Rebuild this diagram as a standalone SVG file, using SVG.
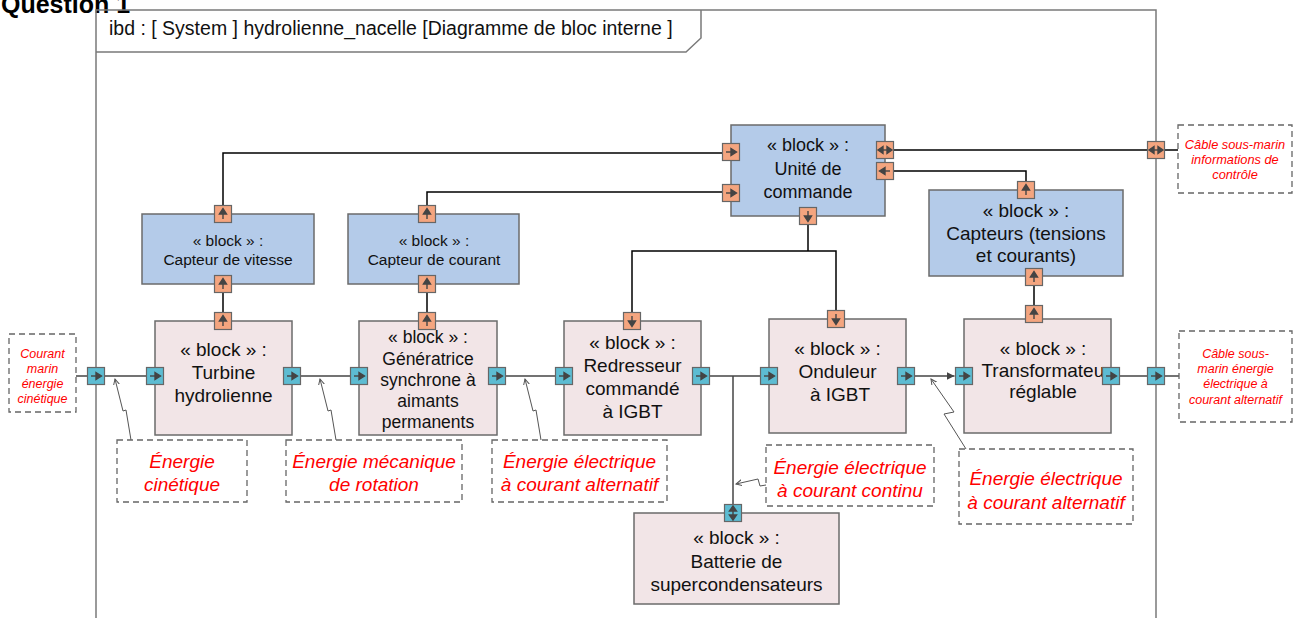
<svg xmlns="http://www.w3.org/2000/svg" xmlns:xlink="http://www.w3.org/1999/xlink" width="1299" height="618" viewBox="0 0 1299 618">
  <style>
    .frame { fill: none; stroke: #7a7a7a; stroke-width: 1.5; }
    .blk-p { fill: #f2e5e7; stroke: #6b6b6b; stroke-width: 1.5; }
    .blk-b { fill: #b4cbe9; stroke: #6b6b6b; stroke-width: 1.5; }
    .po { fill: #f4a57f; stroke: #666; stroke-width: 1.2; }
    .pb { fill: #5dbcd2; stroke: #666; stroke-width: 1.2; }
    .ag { fill: #444; stroke: #444; stroke-width: 1.4; }
    .t { font-family: "Liberation Sans", Arial, sans-serif; fill: #111; text-anchor: middle; }
    .lbl { font-family: "Liberation Sans", Arial, sans-serif; font-style: italic; fill: #f00; text-anchor: middle; }
    .dash { fill: #fff; stroke: #666; stroke-width: 1.3; stroke-dasharray: 6 4; }
    .sig { fill: none; stroke: #000; stroke-width: 1.5; }
    .flow { fill: none; stroke: #444; stroke-width: 1.5; }
    .call { fill: none; stroke: #555; stroke-width: 1; }
  </style>
  <defs>
    <marker id="callTip" markerWidth="8" markerHeight="8" refX="6" refY="3" orient="auto" markerUnits="userSpaceOnUse">
      <path d="M0 0 L6 3 L0 6" fill="none" stroke="#555" stroke-width="1"/>
    </marker>
    <marker id="flowTip" markerWidth="10" markerHeight="10" refX="8" refY="4" orient="auto" markerUnits="userSpaceOnUse">
      <path d="M0 0 L8 4 L0 8 Z" fill="#444"/>
    </marker>
    <!-- flow ports (blue) -->
    <g id="pbR">
      <rect x="-8.5" y="-8.5" width="17" height="17" class="pb"/>
      <path d="M-5 0H1" class="ag"/>
      <polygon points="0,-3.5 5.5,0 0,3.5" class="ag" stroke-width="0.5"/>
    </g>
    <g id="pbUD">
      <rect x="-8.5" y="-8.5" width="17" height="17" class="pb"/>
      <path d="M0 -3V3" class="ag"/>
      <polygon points="-3.5,-2 0,-7 3.5,-2" class="ag" stroke-width="0.5"/>
      <polygon points="-3.5,2 0,7 3.5,2" class="ag" stroke-width="0.5"/>
    </g>
    <!-- signal ports (orange) -->
    <g id="poU">
      <rect x="-8.5" y="-8.5" width="17" height="17" class="po"/>
      <path d="M0 5V-1" class="ag"/>
      <polygon points="-3.5,0 0,-5.5 3.5,0" class="ag" stroke-width="0.5"/>
    </g>
    <g id="poD">
      <rect x="-8.5" y="-8.5" width="17" height="17" class="po"/>
      <path d="M0 -5V1" class="ag"/>
      <polygon points="-3.5,0 0,5.5 3.5,0" class="ag" stroke-width="0.5"/>
    </g>
    <g id="poR">
      <rect x="-8.5" y="-8.5" width="17" height="17" class="po"/>
      <path d="M-5 0H1" class="ag"/>
      <polygon points="0,-3.5 5.5,0 0,3.5" class="ag" stroke-width="0.5"/>
    </g>
    <g id="poL">
      <rect x="-8.5" y="-8.5" width="17" height="17" class="po"/>
      <path d="M5 0H-1" class="ag"/>
      <polygon points="0,-3.5 -5.5,0 0,3.5" class="ag" stroke-width="0.5"/>
    </g>
    <g id="poLR">
      <rect x="-8.5" y="-8.5" width="17" height="17" class="po"/>
      <path d="M-3 0H3" class="ag"/>
      <polygon points="-2,-3.5 -7,0 -2,3.5" class="ag" stroke-width="0.5"/>
      <polygon points="2,-3.5 7,0 2,3.5" class="ag" stroke-width="0.5"/>
    </g>
  </defs>

  <rect width="1299" height="618" fill="#fff"/>

  <!-- heading, clipped by the top edge -->
  <text x="1" y="13" font-family="Liberation Sans, Arial, sans-serif" font-weight="bold" font-size="25" fill="#000">Question 1</text>

  <!-- diagram frame and title tab -->
  <g id="frame">
    <path class="frame" d="M96 618 V10 H1156 V618"/>
    <path class="frame" d="M96 52 H686 L701 38 V10"/>
    <text x="109" y="35" font-family="Liberation Sans, Arial, sans-serif" font-size="19.5" fill="#111">ibd : [ System ] hydrolienne_nacelle [Diagramme de bloc interne ]</text>
  </g>

  <!-- connectors -->
  <g id="connectors">
    <!-- control signals -->
    <path class="sig" d="M223 205.5 V153 H722.5"/>
    <path class="sig" d="M427 205.5 V192 H722.5"/>
    <path class="sig" d="M223 292.5 V312.5"/>
    <path class="sig" d="M427 292.5 V312.5"/>
    <path class="sig" d="M893.5 150 H1147.5"/>
    <path class="sig" d="M1164.5 150 H1178"/>
    <path class="sig" d="M893.5 171 H1026 V181.5"/>
    <path class="sig" d="M808 224.5 V251"/>
    <path class="sig" d="M632 312.5 V251 H836 V310.5"/>
    <path class="sig" d="M1034 285.5 V305.5"/>
    <!-- energy flow -->
    <path class="flow" d="M76 376 H87.5"/>
    <path class="flow" d="M104.5 376 H146.5"/>
    <path class="flow" d="M300.5 376 H350.5"/>
    <path class="flow" d="M505.5 376 H555.5"/>
    <path class="flow" d="M709.5 376 H760.5"/>
    <path class="flow" d="M733 376 V504.5"/>
    <path class="flow" d="M914.5 376 H954.5" marker-end="url(#flowTip)"/>
    <path class="flow" d="M1118.5 376 H1147.5"/>
    <path class="flow" d="M1164.5 376 H1179"/>
    <!-- flow annotations -->
    <path class="call" d="M131 440 L126 410 L123 411 L115 379" marker-end="url(#callTip)"/>
    <path class="call" d="M336 440 L331 410 L328 411 L320 379" marker-end="url(#callTip)"/>
    <path class="call" d="M541 440 L536 410 L533 411 L525 379" marker-end="url(#callTip)"/>
    <path class="call" d="M766 485 L760 486 L758 479 L736 484" marker-end="url(#callTip)"/>
    <path class="call" d="M966 449 L944 414 L954 412 L931 379" marker-end="url(#callTip)"/>
  </g>

  <!-- boundary ports -->
  <g id="boundary-ports">
    <use href="#pbR" x="96" y="376"/>
    <use href="#pbR" x="1156" y="376"/>
    <use href="#poLR" x="1156" y="150"/>
  </g>

  <!-- external items -->
  <g id="ext-courant">
    <rect class="dash" x="9" y="334" width="67" height="78"/>
    <text class="lbl" font-size="12.5" x="42.5"><tspan x="42.5" y="357.5">Courant</tspan><tspan x="42.5" y="372.5">marin</tspan><tspan x="42.5" y="387.5">énergie</tspan><tspan x="42.5" y="402.5">cinétique</tspan></text>
  </g>
  <g id="ext-cable-energie">
    <rect class="dash" x="1179" y="331" width="113" height="91"/>
    <text class="lbl" font-size="12.5"><tspan x="1235.5" y="357.5">Câble sous-</tspan><tspan x="1235.5" y="372.5">marin énergie</tspan><tspan x="1235.5" y="388">électrique à</tspan><tspan x="1235.5" y="403.5">courant alternatif</tspan></text>
  </g>
  <g id="ext-cable-info">
    <rect class="dash" x="1178" y="125" width="114" height="68"/>
    <text class="lbl" font-size="12.8"><tspan x="1235" y="148.5">Câble sous-marin</tspan><tspan x="1235" y="163.5">informations de</tspan><tspan x="1235" y="178.5">contrôle</tspan></text>
  </g>

  <!-- flow labels -->
  <g id="lbl-cinetique">
    <rect class="dash" x="117" y="440" width="130" height="62"/>
    <text class="lbl" font-size="19"><tspan x="182" y="467.5">Énergie</tspan><tspan x="182" y="490.5">cinétique</tspan></text>
  </g>
  <g id="lbl-mecanique">
    <rect class="dash" x="286" y="440" width="176" height="62"/>
    <text class="lbl" font-size="19"><tspan x="374" y="467.5">Énergie mécanique</tspan><tspan x="374" y="490.5">de rotation</tspan></text>
  </g>
  <g id="lbl-alternatif-1">
    <rect class="dash" x="492" y="440" width="175" height="62"/>
    <text class="lbl" font-size="19"><tspan x="579.5" y="467.5">Énergie électrique</tspan><tspan x="579.5" y="490.5">à courant alternatif</tspan></text>
  </g>
  <g id="lbl-continu">
    <rect class="dash" x="766" y="445" width="168" height="61"/>
    <text class="lbl" font-size="19"><tspan x="850" y="473.5">Énergie électrique</tspan><tspan x="850" y="496.5">à courant continu</tspan></text>
  </g>
  <g id="lbl-alternatif-2">
    <rect class="dash" x="959" y="449" width="174" height="75"/>
    <text class="lbl" font-size="19"><tspan x="1046" y="484.5">Énergie électrique</tspan><tspan x="1046" y="508.5">à courant alternatif</tspan></text>
  </g>

  <!-- blocks -->
  <g id="unite-commande">
    <rect class="blk-b" x="731" y="125" width="154" height="91"/>
    <text class="t" font-size="18"><tspan x="808" y="150.5">« block » :</tspan><tspan x="808" y="174.5">Unité de</tspan><tspan x="808" y="197.5">commande</tspan></text>
    <use href="#poR" x="731" y="152"/>
    <use href="#poR" x="731" y="193"/>
    <use href="#poLR" x="885" y="150"/>
    <use href="#poL" x="885" y="171"/>
    <use href="#poD" x="808" y="216"/>
  </g>

  <g id="capteur-vitesse">
    <rect class="blk-b" x="142" y="214" width="172" height="70"/>
    <text class="t" font-size="15.5"><tspan x="228" y="245.5">« block » :</tspan><tspan x="228" y="264.5">Capteur de vitesse</tspan></text>
    <use href="#poU" x="223" y="214"/>
    <use href="#poU" x="223" y="284"/>
  </g>

  <g id="capteur-courant">
    <rect class="blk-b" x="348" y="214" width="171" height="70"/>
    <text class="t" font-size="15.5"><tspan x="434" y="245.5">« block » :</tspan><tspan x="434" y="264.5">Capteur de courant</tspan></text>
    <use href="#poU" x="427" y="214"/>
    <use href="#poU" x="427" y="284"/>
  </g>

  <g id="capteurs-tensions">
    <rect class="blk-b" x="929" y="190" width="194" height="86"/>
    <text class="t" font-size="19"><tspan x="1026" y="217">« block » :</tspan><tspan x="1026" y="240">Capteurs (tensions</tspan><tspan x="1026" y="262">et courants)</tspan></text>
    <use href="#poU" x="1026" y="190"/>
    <use href="#poU" x="1034" y="277"/>
  </g>

  <g id="turbine">
    <rect class="blk-p" x="155" y="321" width="137" height="114"/>
    <text class="t" font-size="19"><tspan x="223.5" y="356">« block » :</tspan><tspan x="223.5" y="379">Turbine</tspan><tspan x="223.5" y="402">hydrolienne</tspan></text>
    <use href="#poU" x="223" y="321"/>
    <use href="#pbR" x="155" y="376"/>
    <use href="#pbR" x="292" y="376"/>
  </g>

  <g id="generatrice">
    <rect class="blk-p" x="359" y="321" width="138" height="114"/>
    <text class="t" font-size="17.5"><tspan x="428" y="343">« block » :</tspan><tspan x="428" y="364.5">Génératrice</tspan><tspan x="428" y="385.5">synchrone à</tspan><tspan x="428" y="407">aimants</tspan><tspan x="428" y="428">permanents</tspan></text>
    <use href="#poU" x="427" y="321"/>
    <use href="#pbR" x="359" y="376"/>
    <use href="#pbR" x="497" y="376"/>
  </g>

  <g id="redresseur">
    <rect class="blk-p" x="564" y="321" width="137" height="114"/>
    <text class="t" font-size="19"><tspan x="632.5" y="349">« block » :</tspan><tspan x="632.5" y="371.5">Redresseur</tspan><tspan x="632.5" y="395">commandé</tspan><tspan x="632.5" y="418">à IGBT</tspan></text>
    <use href="#poD" x="632" y="321"/>
    <use href="#pbR" x="564" y="376"/>
    <use href="#pbR" x="701" y="376"/>
  </g>

  <g id="onduleur">
    <rect class="blk-p" x="769" y="319" width="137" height="114"/>
    <text class="t" font-size="19"><tspan x="837.5" y="355">« block » :</tspan><tspan x="837.5" y="378">Onduleur</tspan><tspan x="840" y="401">à IGBT</tspan></text>
    <use href="#poD" x="836" y="319"/>
    <use href="#pbR" x="769" y="376"/>
    <use href="#pbR" x="906" y="376"/>
  </g>

  <g id="transformateur">
    <rect class="blk-p" x="964" y="319" width="147" height="114"/>
    <text class="t" font-size="19"><tspan x="1043" y="354.5">« block » :</tspan><tspan x="1046" y="377">Transformateur</tspan><tspan x="1043" y="397.5">réglable</tspan></text>
    <use href="#poU" x="1034" y="314"/>
    <use href="#pbR" x="964" y="376"/>
    <use href="#pbR" x="1111" y="376"/>
  </g>

  <g id="batterie">
    <rect class="blk-p" x="634" y="513" width="205" height="91"/>
    <text class="t" font-size="19"><tspan x="736.5" y="544">« block » :</tspan><tspan x="736.5" y="568">Batterie de</tspan><tspan x="736.5" y="591">supercondensateurs</tspan></text>
    <use href="#pbUD" x="733" y="513"/>
  </g>
</svg>
